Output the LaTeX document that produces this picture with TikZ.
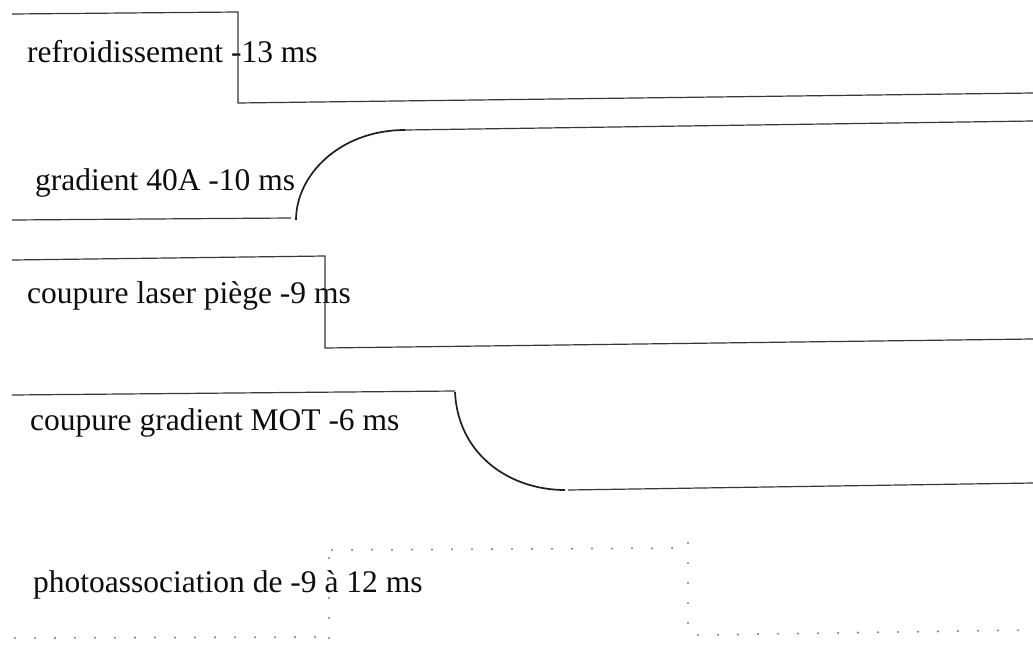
\documentclass[tikz,border=0pt]{standalone}
\usepackage{fontspec}
\setmainfont{Liberation Serif}
\begin{document}
\begin{tikzpicture}[x=1pt,y=-1pt,
  sig/.style={draw=black!78,line width=1.2pt},
  ramp/.style={draw=black!88,line width=1.7pt},
  dotsig/.style={draw=black!50,line width=2.3pt,line cap=round,dash pattern=on 0.01pt off 19.99pt},
  lbl/.style={anchor=base west,inner sep=0pt,text=black!95,font=\fontsize{31.5}{37}\selectfont}]
\useasboundingbox (0,0) rectangle (1033,648);
\fill[white] (0,0) rectangle (1033,648);
% labels
\node[lbl] (t1) at (27,62) {refroidissement -13 ms};
\node[lbl] (t2) at (35,190) {gradient 40A -10 ms};
\node[lbl] (t3) at (27,303) {coupure laser piège -9 ms};
\node[lbl] (t4) at (30,430) {coupure gradient MOT -6 ms};
\node[lbl] (t5) at (33,592) {photoassociation de -9 à 12 ms};
% row 1
\draw[sig] (12,14) -- (238,12) -- (238,103) -- (1033,93);
% row 2
\draw[sig] (12,220) -- (291,218);
\draw[ramp] (296,220) .. controls (296,175) and (340,130) .. (405,130);
\draw[sig] (405,130) -- (1033,121);
% row 3
\draw[sig] (12,260) -- (325,256) -- (325,348) -- (1033,339);
% row 4
\draw[sig] (12,395) -- (455,391);
\draw[ramp] (455,392) .. controls (458,455) and (510,490) .. (565,490);
\draw[sig] (568,490) -- (1033,483);
% row 5 (dotted)
\draw[dotsig] (15,638) -- (328,637);
\draw[dotsig] (329,638) -- (329,542);
\draw[dotsig] (332,550) -- (688,548);
\draw[dotsig] (688,543) -- (688,625);
\draw[dotsig] (698,635) -- (1030,630);
\end{tikzpicture}
\end{document}
